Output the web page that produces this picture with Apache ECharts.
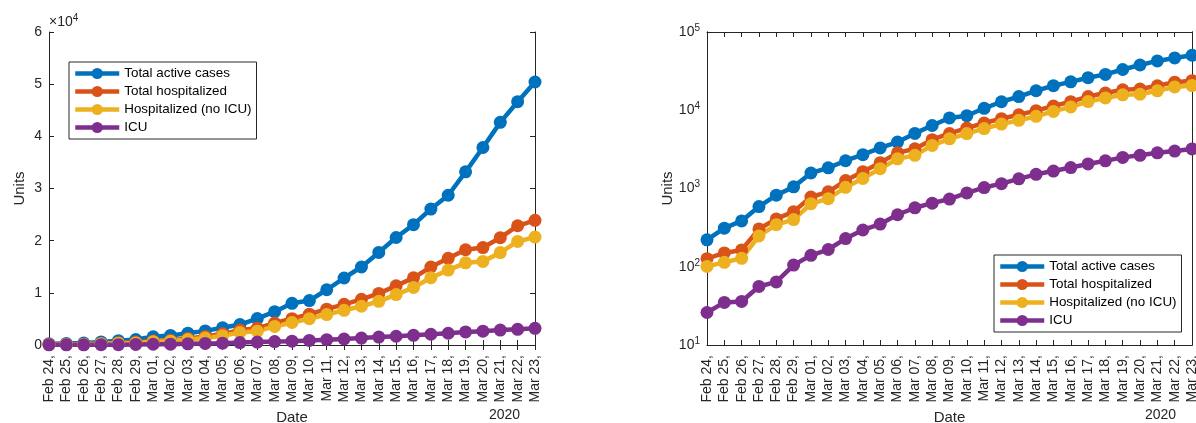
<!DOCTYPE html>
<html>
<head>
<meta charset="utf-8">
<script src="https://cdn.jsdelivr.net/npm/echarts@6/dist/echarts.min.js"></script>
<style>
html, body { margin: 0; padding: 0; background: #fff; }
#chart { width: 1196px; height: 423px; }
</style>
</head>
<body>
<div id="chart"></div>
<script>
// data
var dates = ['Feb 24','Feb 25','Feb 26','Feb 27','Feb 28','Feb 29','Mar 01','Mar 02','Mar 03','Mar 04',
    'Mar 05','Mar 06','Mar 07','Mar 08','Mar 09','Mar 10','Mar 11','Mar 12','Mar 13','Mar 14',
    'Mar 15','Mar 16','Mar 17','Mar 18','Mar 19','Mar 20','Mar 21','Mar 22','Mar 23'];
var activeCases = [221,311,385,588,821,1049,1577,1835,2263,2706,3296,3916,5061,6387,7985,8514,
    10590,12839,14955,17750,20603,23073,26062,28710,33190,37860,42681,46638,50418];
var totalHosp = [127,150,164,304,409,506,779,908,1263,1641,2141,2856,3218,4207,5049,5915,
    6866,7803,8754,9890,11335,12876,14954,16620,18255,18675,20565,22855,23896];
var hospNoIcu = [101,114,128,248,345,401,639,742,1034,1346,1790,2394,2651,3557,4316,5038,
    5838,6650,7426,8372,9663,11025,12894,14363,15757,16020,17708,19846,20692];
var icu = [26,35,36,56,64,105,140,166,229,295,351,462,567,650,733,877,
    1028,1153,1328,1518,1672,1851,2060,2257,2498,2655,2857,3009,3204];
var seriesNames = ['Total active cases','Total hospitalized','Hospitalized (no ICU)','ICU'];
var seriesColors = ['#0072BD','#D95319','#EDB120','#7E2F8E'];
var logMajor = [10,100,1000,10000,100000];
var logMinor = [20,30,40,50,60,70,80,90,200,300,400,500,600,700,800,900,
    2000,3000,4000,5000,6000,7000,8000,9000,20000,30000,40000,50000,60000,70000,80000,90000];
var seriesData = [activeCases, totalHosp, hospNoIcu, icu];

var font = 'Liberation Sans, Arial, Helvetica, sans-serif';
var ink = '#262626';

var chart = echarts.init(document.getElementById('chart'));

function xAxisFor(grid, top) {
    return {
        type: 'category', gridIndex: grid, data: dates, boundaryGap: false,
        position: top ? 'top' : 'bottom',
        axisLine: { lineStyle: { color: ink, width: 1 } },
        axisTick: { inside: true, length: 5, interval: 0, lineStyle: { color: ink } },
        axisLabel: top ? { show: false } : {
            show: true, interval: 0, rotate: 90, margin: 10, color: ink,
            fontFamily: font, fontSize: 14,
            formatter: function (v) { return v + ','; }
        },
        splitLine: { show: false },
        name: top ? '' : 'Date', nameLocation: 'middle', nameGap: 61,
        nameTextStyle: { color: ink, fontFamily: font, fontSize: 15 }
    };
}

function logAxis(right, minor) {
    return {
        type: 'log', gridIndex: 1, logBase: 10, min: 10, max: 100000,
        position: right ? 'right' : 'left',
        axisLine: { show: true, lineStyle: { color: ink } },
        axisTick: { inside: true, length: minor ? 3 : 5, lineStyle: { color: ink },
            customValues: minor ? logMinor : logMajor },
        axisLabel: (right || minor) ? { show: false } : {
            show: true, margin: 7, color: ink, customValues: logMajor,
            formatter: function (v) {
                return '{b|10}{s|' + Math.round(Math.log10(v)) + '}';
            },
            rich: {
                b: { fontFamily: font, fontSize: 14, color: ink, lineHeight: 18 },
                s: { fontFamily: font, fontSize: 10, color: ink, verticalAlign: 'top', lineHeight: 12 }
            }
        },
        splitLine: { show: false },
        minorTick: { show: false },
        name: (right || minor) ? '' : 'Units', nameLocation: 'middle', nameGap: 32,
        nameTextStyle: { color: ink, fontFamily: font, fontSize: 15 }
    };
}

function linAxis(right) {
    return {
        type: 'value', gridIndex: 0, min: 0, max: 60000, interval: 10000,
        position: right ? 'right' : 'left',
        axisLine: { show: true, lineStyle: { color: ink } },
        axisTick: { show: true, inside: true, length: 5, lineStyle: { color: ink } },
        axisLabel: right ? { show: false } : {
            show: true, margin: 7, color: ink, fontFamily: font, fontSize: 14,
            formatter: function (v) { return String(v / 10000); }
        },
        splitLine: { show: false },
        name: right ? '' : 'Units', nameLocation: 'middle', nameGap: 22,
        nameTextStyle: { color: ink, fontFamily: font, fontSize: 15 }
    };
}

var series = [];
for (var g = 0; g < 2; g++) {
    for (var i = 0; i < 4; i++) {
        series.push({
            name: seriesNames[i], type: 'line',
            xAxisIndex: g === 0 ? 0 : 2, yAxisIndex: g === 0 ? 0 : 2,
            data: seriesData[i],
            symbol: 'circle', symbolSize: 13, showAllSymbol: true,
            lineStyle: { width: 4.5, color: seriesColors[i] },
            itemStyle: { color: seriesColors[i] },
            emphasis: { disabled: true }
        });
    }
}

function legendAt(left, top) {
    return {
        orient: 'vertical', left: left, top: top, data: seriesNames,
        backgroundColor: '#fff', borderColor: ink, borderWidth: 1,
        padding: [5, 5, 5, 4], itemGap: 5, itemWidth: 44, itemHeight: 14,
        lineStyle: { width: 4.5 },
        textStyle: { color: '#000', fontFamily: font, fontSize: 13.4 },
        selectedMode: false
    };
}

var option = {
    animation: false,
    backgroundColor: '#fff',
    grid: [
        { left: 49, top: 32, width: 486, height: 313, outerBoundsMode: 'none' },
        { left: 707, top: 32, width: 485, height: 313, outerBoundsMode: 'none' }
    ],
    xAxis: [xAxisFor(0, false), xAxisFor(0, true), xAxisFor(1, false), xAxisFor(1, true)],
    yAxis: [linAxis(false), linAxis(true), logAxis(false, false), logAxis(false, true),
        logAxis(true, false), logAxis(true, true)],
    legend: [legendAt(69, 62), legendAt(994, 255)],
    graphic: [
        { type: 'text', left: 49, top: 13, style: {
            text: '{b|×10}{s|4}', rich: {
                b: { fontFamily: font, fontSize: 14, fill: ink, lineHeight: 18 },
                s: { fontFamily: font, fontSize: 10, fill: ink, verticalAlign: 'top', lineHeight: 12 }
            } } },
        { type: 'text', left: 489, top: 408, style: { text: '2020', fontFamily: font, fontSize: 14, fill: ink } },
        { type: 'text', left: 1145, top: 408, style: { text: '2020', fontFamily: font, fontSize: 14, fill: ink } }
    ],
    series: series
};
chart.setOption(option);
</script>
</body>
</html>
